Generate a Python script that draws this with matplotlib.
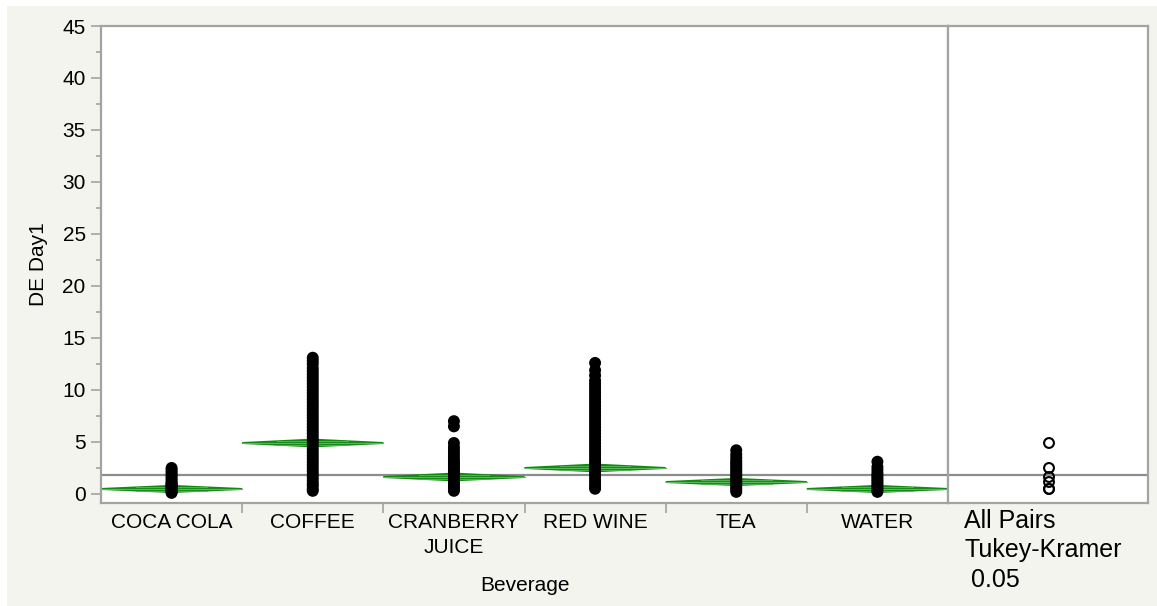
import numpy as np
import matplotlib.pyplot as plt
from matplotlib.patches import Polygon
from matplotlib.ticker import MultipleLocator, FixedLocator, NullFormatter

plt.rcParams['font.family'] = ['Liberation Sans', 'DejaVu Sans']

# ---- data ----
beverages = ["COCA COLA", "COFFEE", "CRANBERRY\nJUICE", "RED WINE", "TEA", "WATER"]

coca_cola = [0.1, 0.2, 0.3, 0.4, 0.5, 0.6, 0.7, 0.8, 0.9, 1.0, 1.1, 1.3, 1.5,
             1.7, 1.9, 2.1, 2.3, 2.5]
coffee = [0.3, 0.5, 0.8, 1.0, 1.3, 1.6, 1.9, 2.2, 2.5, 2.8, 3.1, 3.4, 3.7, 4.0,
          4.3, 4.6, 4.9, 5.2, 5.5, 5.8, 6.1, 6.4, 6.7, 7.0, 7.3, 7.6, 7.9, 8.2,
          8.5, 8.8, 9.1, 9.4, 9.7, 10.0, 10.3, 10.6, 10.9, 11.2, 11.5, 11.8,
          12.1, 12.5, 12.8, 13.1]
cranberry = [0.3, 0.5, 0.7, 0.9, 1.1, 1.3, 1.5, 1.7, 1.9, 2.1, 2.3, 2.5, 2.7,
             2.9, 3.1, 3.3, 3.6, 3.9, 4.2, 4.5, 4.9, 6.5, 7.0]
red_wine = [0.5, 0.7, 1.0, 1.3, 1.6, 1.9, 2.2, 2.5, 2.8, 3.1, 3.4, 3.7, 4.0,
            4.3, 4.6, 4.9, 5.2, 5.5, 5.8, 6.1, 6.4, 6.7, 7.0, 7.3, 7.6, 7.9,
            8.2, 8.5, 8.8, 9.1, 9.4, 9.7, 10.0, 10.3, 10.6, 10.9, 11.4, 11.9,
            12.6]
tea = [0.2, 0.4, 0.6, 0.8, 1.0, 1.2, 1.4, 1.6, 1.8, 2.0, 2.2, 2.4, 2.6, 2.8,
       3.0, 3.2, 3.5, 3.8, 4.2]
water = [0.2, 0.4, 0.6, 0.8, 1.0, 1.2, 1.4, 1.6, 1.8, 2.0, 2.3, 2.6, 3.1]
groups = [coca_cola, coffee, cranberry, red_wine, tea, water]

group_means = [0.48, 4.9, 1.63, 2.5, 1.15, 0.48]
ci_half = [0.3, 0.33, 0.33, 0.33, 0.3, 0.3]
grand_mean = 1.83

# ---- figure ----
W, H = 1157, 606
fig = plt.figure(figsize=(W / 100, H / 100), dpi=100)
fig.patch.set_facecolor('white')
fig.add_artist(plt.Rectangle((7 / W, 0), 1 - 7 / W, 1 - 6 / H,
                             transform=fig.transFigure, facecolor='#f4f4ef',
                             edgecolor='none', zorder=-10))

bottom, top = 503, 26
ax = fig.add_axes([101 / W, 1 - bottom / H, 847 / W, (bottom - top) / H])
axc = fig.add_axes([948 / W, 1 - bottom / H, 200 / W, (bottom - top) / H])

frame = '#a3a3a3'
for a in (ax, axc):
    a.set_facecolor('white')
    for s in a.spines.values():
        s.set_color(frame)
        s.set_linewidth(1.6)
    a.set_ylim(-0.87, 45)

# points and means diamonds
green = '#138a13'
for i, vals in enumerate(groups):
    xc = i + 0.5
    ax.scatter(np.full(len(vals), xc), vals, s=74, color='black',
               edgecolors='none', zorder=3)
    m, h = group_means[i], ci_half[i]
    dia = Polygon([(i, m), (xc, m + h), (i + 1, m), (xc, m - h)], closed=True,
                  facecolor=green, edgecolor=green, linewidth=1.4, zorder=2)
    ax.add_patch(dia)
    ax.plot([i, i + 1], [m, m], color='#58b858', lw=0.8, zorder=2)
    ax.plot([i + 0.25, i + 0.75], [m + h * 0.5, m + h * 0.5], color='#58b858',
            lw=0.6, zorder=2)
    ax.plot([i + 0.25, i + 0.75], [m - h * 0.5, m - h * 0.5], color='#58b858',
            lw=0.6, zorder=2)

ax.axhline(grand_mean, color='#8c8c8c', lw=1.6, zorder=1)
ax.set_xlim(0, 6)

# y axis
ax.yaxis.set_major_locator(MultipleLocator(5))
ax.yaxis.set_minor_locator(MultipleLocator(2.5))
ax.tick_params(axis='y', which='major', length=7, width=1.2, color=frame,
               labelsize=15, pad=4)
ax.tick_params(axis='y', which='minor', length=3.5, width=1.2, color=frame)
ax.set_ylabel('DE Day1', fontsize=15, labelpad=10)

# x axis: boundary ticks plus centered category labels
ax.xaxis.set_major_locator(FixedLocator([1, 2, 3, 4, 5]))
ax.xaxis.set_major_formatter(NullFormatter())
ax.xaxis.set_minor_locator(FixedLocator([i + 0.5 for i in range(6)]))
ax.set_xticklabels(beverages, minor=True, fontsize=15, linespacing=1.4,
                   va='top')
ax.tick_params(axis='x', which='major', length=7, width=1.2, color=frame)
ax.tick_params(axis='x', which='minor', length=0, pad=7)
ax.set_xlabel('Beverage', fontsize=15, labelpad=14)

# comparison circles panel
axc.axhline(grand_mean, color='#8c8c8c', lw=1.6, zorder=1)
axc.set_xlim(0, 1)
axc.scatter(np.full(len(group_means), 0.505), group_means, s=50,
            facecolors='none', edgecolors='black', linewidths=1.5, zorder=3)
axc.set_xticks([])
axc.set_yticks([])

for k, line in enumerate(["All Pairs", "Tukey-Kramer", " 0.05"]):
    fig.text(964 / W, 1 - (528 + 29.5 * k) / H, line, fontsize=18,
             ha='left', va='baseline')

fig.savefig('out.png', dpi=100, facecolor=fig.get_facecolor())
